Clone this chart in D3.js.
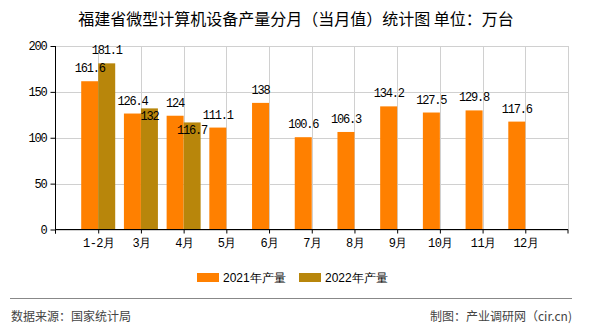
<!DOCTYPE html>
<html><head><meta charset="utf-8">
<script src="https://cdn.jsdelivr.net/npm/d3@7"></script>
<style>
html,body{margin:0;padding:0;background:#fff;}
svg{display:block;}
</style></head>
<body>
<svg id="c" width="590" height="330"></svg>
<script>
const categories = ["1-2月","3月","4月","5月","6月","7月","8月","9月","10月","11月","12月"];
const values2021 = [161.6,126.4,124,111.1,138,100.6,106.3,134.2,127.5,129.8,117.6];
const values2022 = [181.1,132,116.7,null,null,null,null,null,null,null,null];
const seriesNames = ["2021年产量","2022年产量"];
const yTicks = [0,50,100,150,200];
const title = "福建省微型计算机设备产量分月（当月值）统计图 单位：万台";
const sourceText = "数据来源：国家统计局";
const creditText = "制图：产业调研网（cir.cn)";

const colors = ["#ff8000","#b8860b"];
const monoFont = "'Liberation Mono','DejaVu Sans Mono',monospace";
const cjkFont = "'Noto Sans CJK SC','Liberation Sans',sans-serif";

const svg = d3.select("#c");
const L = 55.5, R = 568, T = 46, B = 229.5;

const x = d3.scalePoint().domain(categories).range([L, R]).padding(1);
const y = d3.scaleLinear().domain([0,200]).range([B, T]);
const barW = 17;

// title
svg.append("text").attr("x", 296).attr("y", 18).attr("text-anchor","middle")
  .attr("dominant-baseline","central").attr("font-family",cjkFont).attr("font-size",16)
  .attr("fill","#000").text(title);

// gridlines
const g = svg.append("g");
g.selectAll(".hg").data(yTicks).enter().append("line")
  .attr("x1",L).attr("x2",R).attr("y1",d=>Math.round(y(d))+0.5).attr("y2",d=>Math.round(y(d))+0.5)
  .attr("stroke","#d0d0d0").attr("stroke-width",1);
g.selectAll(".vg").data(categories).enter().append("line")
  .attr("x1",d=>Math.round(x(d))+0.5).attr("x2",d=>Math.round(x(d))+0.5).attr("y1",T).attr("y2",B)
  .attr("stroke","#d0d0d0");
g.append("line").attr("x1",R+0.5).attr("x2",R+0.5).attr("y1",T).attr("y2",B).attr("stroke","#d0d0d0");

// bars
const bars = svg.append("g");
bars.selectAll(".b1").data(values2021).enter().append("rect")
  .attr("x",(d,i)=>x(categories[i])-barW).attr("width",barW)
  .attr("y",d=>y(d)).attr("height",d=>B-y(d)).attr("fill",colors[0]);
bars.selectAll(".b2").data(values2022.map((v,i)=>({v,i})).filter(d=>d.v!=null)).enter().append("rect")
  .attr("x",d=>x(categories[d.i])).attr("width",barW)
  .attr("y",d=>y(d.v)).attr("height",d=>B-y(d.v)).attr("fill",colors[1]);

// axes
const yAxis = d3.axisLeft(y).tickValues(yTicks).tickSize(5).tickPadding(4);
const ya = svg.append("g").attr("transform",`translate(${L},0)`).call(yAxis);
ya.select(".domain").attr("stroke","#000").attr("d",`M-0.0,${T}V${B}`);
ya.selectAll("text").attr("font-family",monoFont).attr("font-size",12).attr("letter-spacing","-1.2").attr("fill","#000");
ya.selectAll("line").attr("stroke","#000");

const xAxis = d3.axisBottom(x).tickSize(4).tickPadding(5);
const xa = svg.append("g").attr("transform",`translate(0,${B})`).call(xAxis);
xa.select(".domain").attr("stroke","#000").attr("d",`M${L},4V0H${R}V4`);
xa.selectAll("text").attr("font-family",monoFont).attr("font-size",12).attr("letter-spacing","-0.6").attr("fill","#000");
xa.selectAll("line").attr("stroke","#000");
xa.append("line").attr("x1",L).attr("x2",L).attr("y1",0).attr("y2",4).attr("stroke","#000");

// value labels
const fmt = v => String(v);
const lab = svg.append("g").attr("font-family",monoFont).attr("font-size",12).attr("letter-spacing","-1.2").attr("fill","#000").attr("text-anchor","middle");
lab.selectAll(".l1").data(values2021).enter().append("text")
  .attr("x",(d,i)=>x(categories[i])-barW/2).attr("y",d=>y(d)-12)
  .attr("dominant-baseline","central").text(fmt);
lab.selectAll(".l2").data(values2022.map((v,i)=>({v,i})).filter(d=>d.v!=null)).enter().append("text")
  .attr("x",d=>x(categories[d.i])+barW/2)
  .attr("y",d=>Math.abs(d.v-values2021[d.i])<10 ? y(d.v)+8.5 : y(d.v)-12)
  .attr("dominant-baseline","central").text(d=>fmt(d.v));

// legend
const lg = svg.append("g");
const legX = [197, 299];
seriesNames.forEach((n,i)=>{
  lg.append("rect").attr("x",legX[i]).attr("y",273).attr("width",22).attr("height",9).attr("fill",colors[i]);
  lg.append("text").attr("x",legX[i]+26).attr("y",277.5).attr("dominant-baseline","central")
    .attr("font-family","'Liberation Sans',Arial,sans-serif").attr("font-size",12).attr("fill","#000").text(n);
});

// footer
svg.append("line").attr("x1",10).attr("x2",572).attr("y1",298.5).attr("y2",298.5).attr("stroke","#888").attr("stroke-width",1);
svg.append("text").attr("x",11).attr("y",315.5).attr("dominant-baseline","central")
  .attr("font-family",cjkFont).attr("font-size",12).attr("fill","#444").text(sourceText);
svg.append("text").attr("x",572).attr("y",315.5).attr("dominant-baseline","central").attr("text-anchor","end")
  .attr("font-family",cjkFont).attr("font-size",12).attr("fill","#444").text(creditText);
</script>
</body></html>
